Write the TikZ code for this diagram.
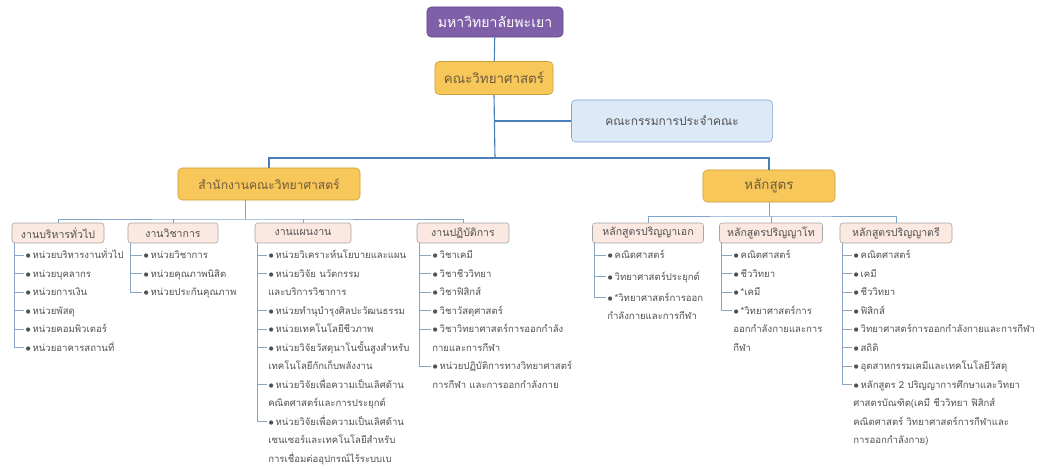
\documentclass[tikz,border=0pt]{standalone}
\usepackage{fontspec}
\setmainfont[Script=Thai]{Loma}
\usetikzlibrary{positioning,calc}
\definecolor{upPurple}{HTML}{7F60A8}
\definecolor{upPurpleLine}{HTML}{5E4788}
\definecolor{upGold}{HTML}{F7C75A}
\definecolor{upGoldLine}{HTML}{C9A03C}
\definecolor{upBrown}{HTML}{6E5A3A}
\definecolor{upSky}{HTML}{DCEAF7}
\definecolor{upSkyLine}{HTML}{7FA3CF}
\definecolor{upPink}{HTML}{FBE8E0}
\definecolor{upBlue}{HTML}{4A7EBB}
\definecolor{twigBlue}{HTML}{8AA5C4}
\definecolor{textGray}{HTML}{505050}
% one list of units under a head box: #1 head, #2 bullet x, #3 line/text pairs
\newcommand\unitlist[3]{%
\coordinate (#1root) at ([xshift=1.5pt]#1.south west);
\foreach \k/\t [count=\i] in {#3} {
  \node[item] (#1i\i) at (#2,245.8+18.5*\k) {\strut$\bullet$\,\t};
  \draw[twig] (#1root) |- ([xshift=-1pt,yshift=-6.55pt]#1i\i.north west);
}
}

\begin{document}
\begin{tikzpicture}[x=0.025cm,y=-0.025cm,
  box/.style={draw, rounded corners=3pt, minimum height=0.8cm, inner sep=2pt, font=\fontsize{9.5}{12}\selectfont},
  gold/.style={box, fill=upGold, draw=upGoldLine, text=upBrown},
  head/.style={draw=gray!70, fill=upPink, rounded corners=2pt, minimum height=0.5cm, inner sep=1pt, text=textGray, font=\fontsize{7.5}{10}\selectfont},
  item/.style={anchor=north west, align=left, inner sep=0pt, text=textGray, font=\fontsize{6.8}{13.1}\selectfont},
  trunk/.style={draw=upBlue, line width=0.8pt},
  bus/.style={draw=upBlue!70, line width=0.5pt},
  twig/.style={draw=twigBlue, line width=0.4pt}]
	\useasboundingbox (0,0) rectangle (1061,468);

	%% top of the chart
	\node[box, fill=upPurple, draw=upPurpleLine, text=white, minimum width=3.4cm, minimum height=0.75cm, font=\fontsize{10}{12}\selectfont] (uni) at (495,22) {มหาวิทยาลัยพะเยา};
	\node[gold, minimum width=2.95cm, minimum height=0.825cm] (fac) at (494,78) {คณะวิทยาศาสตร์};
	\node[box, fill=upSky, draw=upSkyLine, text=textGray, minimum width=5.025cm, minimum height=1.05cm, font=\fontsize{8.5}{10}\selectfont] (board) at (672,121) {คณะกรรมการประจำคณะ};
	\node[gold, minimum width=4.55cm, font=\fontsize{8.6}{10}\selectfont] (office) at (269,184) {สำนักงานคณะวิทยาศาสตร์};
	\node[gold, minimum width=3.3cm] (prog) at (769,186) {หลักสูตร};

	\coordinate (hub) at (495,158);
	\draw[trunk] (uni) -- (fac);
	\draw[trunk] (fac.south) -- (hub);
	\draw[trunk] (fac.south |- board.west) -- (board.west);
	\draw[trunk] (office.north) |- (hub) -| (prog.north);

	%% office side
	\node[head, minimum width=2.3cm] (g1) at (58,233) {งานบริหารทั่วไป};
	\node[head, minimum width=2.25cm] (g2) at (173,233) {งานวิชาการ};
	\node[head, minimum width=2.4cm] (g3) at (303,233) {งานแผนงาน};
	\node[head, minimum width=2.3cm] (g4) at (463,233) {งานปฏิบัติการ};
	\coordinate (obus) at (245,219);
	\draw[bus] (office.south -| obus) -- (obus);
	\draw[bus] (g1.north) |- (obus) -| (g4.north);
	\draw[bus] (g2.north) -- (g2.north |- obus);
	\draw[bus] (g3.north) -- (g3.north |- obus);

	%% programme side
	\node[head, minimum width=2.775cm] (p1) at (648,233) {หลักสูตรปริญญาเอก};
	\node[head, minimum width=2.575cm] (p2) at (771,233) {หลักสูตรปริญญาโท};
	\node[head, minimum width=2.8cm] (p3) at (896,233) {หลักสูตรปริญญาตรี};
	\coordinate (pbus) at (770,216);
	\draw[bus] (prog.south) -- (prog.south |- pbus);
	\draw[bus] (p1.north) |- (pbus) -| (p3.north);
	\draw[bus] (p2.north) -- (p2.north |- pbus);

	%% the units
	\unitlist{g1}{25}{0/หน่วยบริหารงานทั่วไป,1/หน่วยบุคลากร,2/หน่วยการเงิน,3/หน่วยพัสดุ,4/หน่วยคอมพิวเตอร์,5/หน่วยอาคารสถานที่}
	\unitlist{g2}{143}{0/หน่วยวิชาการ,1/หน่วยคุณภาพนิสิต,2/หน่วยประกันคุณภาพ}
	\unitlist{g3}{268}{0/หน่วยวิเคราะห์นโยบายและแผน,1/{หน่วยวิจัย นวัตกรรม\\และบริการวิชาการ},3/หน่วยทำนุบำรุงศิลปะวัฒนธรรม,4/หน่วยเทคโนโลยีชีวภาพ,5/{หน่วยวิจัยวัสดุนาโนขั้นสูงสำหรับ\\เทคโนโลยีกักเก็บพลังงาน},7/{หน่วยวิจัยเพื่อความเป็นเลิศด้าน\\คณิตศาสตร์และการประยุกต์},9/{หน่วยวิจัยเพื่อความเป็นเลิศด้าน\\เซนเซอร์และเทคโนโลยีสำหรับ\\การเชื่อมต่ออุปกรณ์ไร้ระบบเบ}}
	\unitlist{g4}{432}{0/วิชาเคมี,1/วิชาชีววิทยา,2/วิชาฟิสิกส์,3/วิชาวัสดุศาสตร์,4/{วิชาวิทยาศาสตร์การออกกำลัง\\กายและการกีฬา},6/{หน่วยปฏิบัติการทางวิทยาศาสตร์\\การกีฬา และการออกกำลังกาย}}
	\unitlist{p1}{607}{0/คณิตศาสตร์,1.15/วิทยาศาสตร์ประยุกต์,2.3/{*วิทยาศาสตร์การออก\\กำลังกายและการกีฬา}}
	\unitlist{p2}{733}{0/คณิตศาสตร์,1/ชีววิทยา,2/*เคมี,3/{*วิทยาศาสตร์การ\\ออกกำลังกายและการ\\กีฬา}}
	\unitlist{p3}{853}{0/คณิตศาสตร์,1/เคมี,2/ชีววิทยา,3/ฟิสิกส์,4/วิทยาศาสตร์การออกกำลังกายและการกีฬา,5/สถิติ,6/อุตสาหกรรมเคมีและเทคโนโลยีวัสดุ,7/{หลักสูตร 2 ปริญญาการศึกษาและวิทยา\\ศาสตรบัณฑิต(เคมี ชีววิทยา ฟิสิกส์\\คณิตศาสตร์ วิทยาศาสตร์การกีฬาและ\\การออกกำลังกาย)}}
\end{tikzpicture}
\end{document}
